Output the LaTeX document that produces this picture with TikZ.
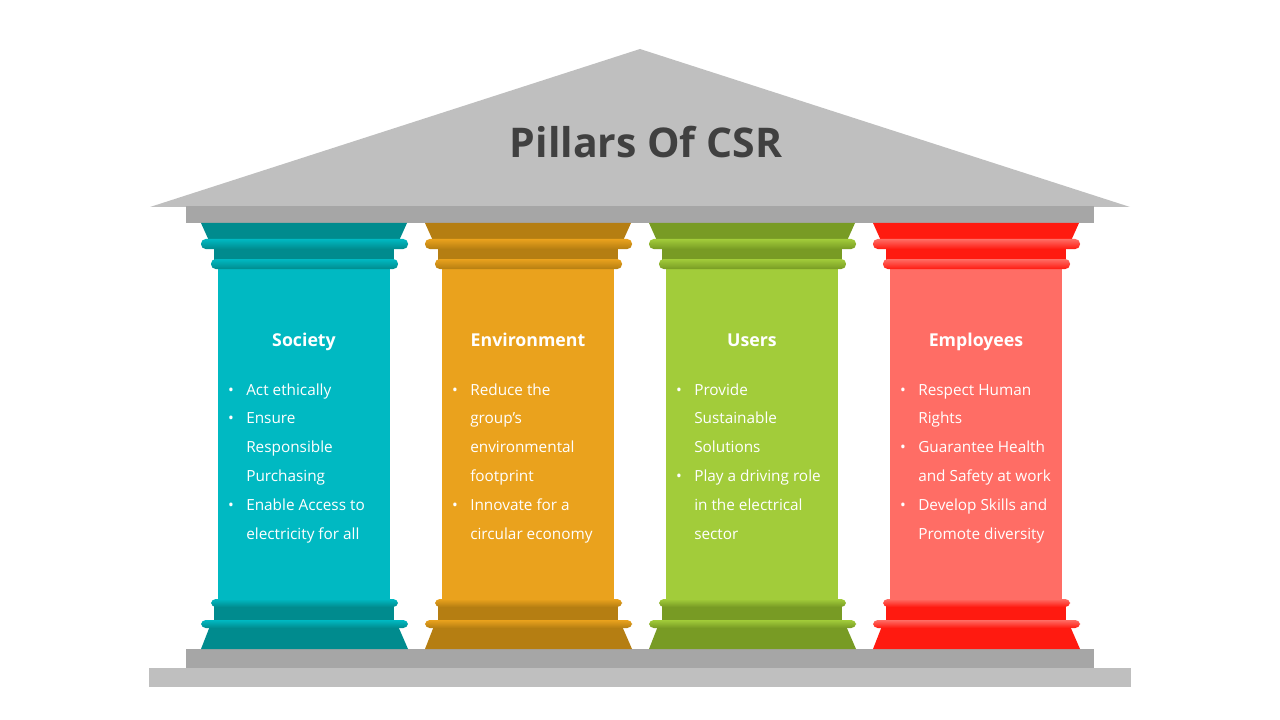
\documentclass[tikz,border=0pt]{standalone}
\usepackage{fontspec}
\setmainfont{Open Sans}
\definecolor{roof}{HTML}{BFBFBF}
\definecolor{beam}{HTML}{A6A6A6}
\definecolor{titlec}{HTML}{404040}
\definecolor{socL}{HTML}{00B9C2}
\definecolor{socD}{HTML}{008B8E}
\definecolor{envL}{HTML}{EAA21D}
\definecolor{envD}{HTML}{B57E12}
\definecolor{usrL}{HTML}{A2CC3A}
\definecolor{usrD}{HTML}{789B24}
\definecolor{empL}{HTML}{FF6D65}
\definecolor{empD}{HTML}{FF1A10}
\newcommand\csrpillar[3]{%
\begin{scope}[shift={(#1,0)}]
  \fill[#3] (-103,223) -- (103,223) -- (94,243) -- (-94,243) -- cycle;
  \fill[#3] (-90,247) rectangle (90,261);
  \shade[top color=#2, bottom color=#3, rounded corners=3.5pt] (-103,239) rectangle (104,249);
  \fill[#2] (-86,267) rectangle (86,601);
  \shade[top color=#2, bottom color=#3, rounded corners=3.5pt] (-93,259) rectangle (94,269);
  \fill[#3] (-90,605) rectangle (90,622);
  \shade[top color=#2, bottom color=#3, rounded corners=3.5pt] (-93,599) rectangle (94,607);
  \fill[#3] (-94,626) -- (94,626) -- (104,649) -- (-103,649) -- cycle;
  \shade[top color=#2, bottom color=#3, rounded corners=3.5pt] (-103,620) rectangle (104,628);
\end{scope}}
\tikzset{
  head/.style={font=\bfseries\fontsize{13.3}{16}\selectfont, text=white, inner sep=0pt, anchor=base},
  itemtxt/.style={font=\fontsize{11.5}{14}\selectfont, text=white, inner sep=0pt, anchor=base west},
  bul/.style={font=\fontsize{11.5}{14}\selectfont, text=white, inner sep=0pt, anchor=base}
}
\newcommand\csrtext[3]{% #1 center, #2 name, #3 list
  \foreach \b/\t [count=\i] in {#3} {
    \node[itemtxt] (#2-\i) at ({#1-58},{395+28.8*(\i-1)}) {\t};
    \ifnum\b=1 \node[bul] (#2-b\i) at ({#1-73},{395+28.8*(\i-1)}) {•};\fi
  }}
\begin{document}
\begin{tikzpicture}[x=0.75pt,y=-0.75pt]
\useasboundingbox (0,0) rectangle (1280,720);
% roof
\fill[roof] (150,207) -- (640,49) -- (1130,207) -- cycle;
\fill[beam] (186,206) rectangle (1094,223);
\node[font=\bfseries\fontsize{30.7}{34}\selectfont, text=titlec, inner sep=0pt, anchor=base] (title) at (646,158) {Pillars Of CSR};
% base
\fill[beam] (186,649) rectangle (1094,668);
\fill[roof] (149,668) rectangle (1131,687);
% pillars
\csrpillar{304}{socL}{socD}
\csrpillar{528}{envL}{envD}
\csrpillar{752}{usrL}{usrD}
\csrpillar{976}{empL}{empD}
% headings
\node[head] (h1) at (304,346) {Society};
\node[head] (h2) at (528,346) {Environment};
\node[head] (h3) at (752,346) {Users};
\node[head] (h4) at (976,346) {Employees};
% texts
\csrtext{304}{s}{1/Act ethically, 1/Ensure, 0/Responsible, 0/Purchasing, 1/Enable Access to, 0/electricity for all}
\csrtext{528}{e}{1/Reduce the, 0/group’s, 0/environmental, 0/footprint, 1/Innovate for a, 0/circular economy}
\csrtext{752}{u}{1/Provide, 0/Sustainable, 0/Solutions, 1/Play a driving role, 0/in the electrical, 0/sector}
\csrtext{976}{m}{1/Respect Human, 0/Rights, 1/Guarantee Health, 0/and Safety at work, 1/Develop Skills and, 0/Promote diversity}
\end{tikzpicture}
\end{document}
